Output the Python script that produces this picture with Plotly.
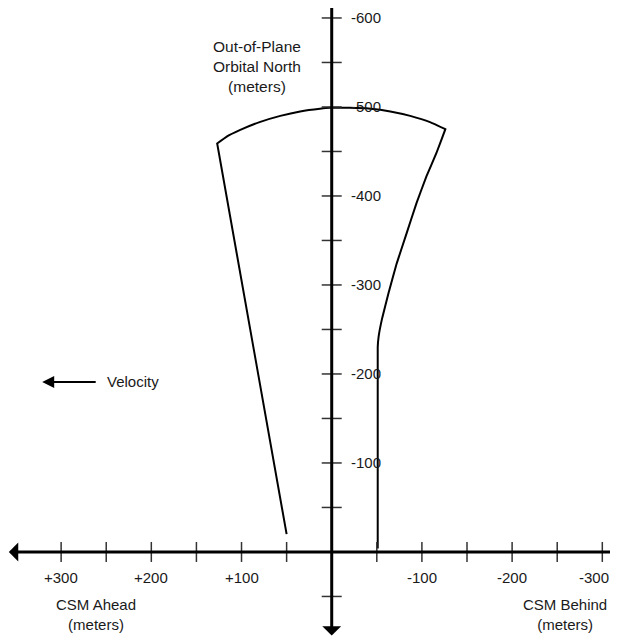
import plotly.graph_objects as go

# corridor boundary: x = along-track (+ = CSM ahead), y = out-of-plane (- = orbital north), meters
left_x = [50, 127]
left_y = [-20, -459]
arc_x = [127, 116, 102, 80, 57, 35, 13, 2, -20, -43, -65, -87, -109, -126]
arc_y = [-459, -467, -474, -483, -490, -495, -498, -499, -499, -498, -495, -490, -483, -475]
right_x = [-126, -116, -105, -94, -83, -72, -63, -56, -52, -51, -51]
right_y = [-475, -448, -422, -392, -358, -324, -291, -263, -242, -230, -4]

x_ticks = [300, 250, 200, 150, 100, 50, 0, -50, -100, -150, -200, -250, -300]
x_tick_labels = {300: '+300', 200: '+200', 100: '+100', -100: '-100', -200: '-200', -300: '-300'}
y_ticks = [50, -50, -100, -150, -200, -250, -300, -350, -400, -450, -500, -550, -600]
y_tick_labels = {-100: '-100', -200: '-200', -300: '-300', -400: '-400', -500: '-500', -600: '-600'}

FONT = dict(family='Liberation Sans, Arial, sans-serif', size=15, color='#1a1a1a')

fig = go.Figure(go.Scatter(
    x=left_x + arc_x + right_x,
    y=left_y + arc_y + right_y,
    mode='lines',
    line=dict(color='black', width=2, shape='spline', smoothing=0.3),
    hoverinfo='skip',
))

shapes = []
for t in x_ticks:
    shapes.append(dict(type='line', xref='x', yref='y', x0=t, x1=t,
                       ysizemode='pixel', yanchor=0, y0=-10, y1=10,
                       line=dict(color='#333', width=1.5)))
for t in y_ticks:
    shapes.append(dict(type='line', xref='x', yref='y', y0=t, y1=t,
                       xsizemode='pixel', xanchor=0, x0=-10, x1=10,
                       line=dict(color='#333', width=1.5)))

ann = []
# axes with arrows
ann.append(dict(x=358, y=0, ax=-322, ay=0, axref='x', ayref='y', xref='x', yref='y',
                text='', showarrow=True, arrowhead=1, arrowsize=1.05, arrowwidth=3, arrowcolor='black'))
ann.append(dict(x=0, y=94, ax=0, ay=-613, axref='x', ayref='y', xref='x', yref='y',
                text='', showarrow=True, arrowhead=1, arrowsize=1.05, arrowwidth=3, arrowcolor='black'))
# velocity arrow
ann.append(dict(x=321, y=-191, ax=260, ay=-191, axref='x', ayref='y', xref='x', yref='y',
                text='', showarrow=True, arrowhead=2, arrowsize=1.2, arrowwidth=2, arrowcolor='black'))
ann.append(dict(x=251, y=-191, xref='x', yref='y', text='Velocity', showarrow=False,
                xanchor='left', font=FONT))

for t, lab in x_tick_labels.items():
    # the right-most label is nudged in so it is not cut by the page edge
    ann.append(dict(x=t, y=0, xref='x', yref='y', text=lab, showarrow=False,
                    yshift=-26, xshift=-8 if t == -300 else 0, font=FONT))
for t, lab in y_tick_labels.items():
    ann.append(dict(x=0, y=t, xref='x', yref='y', text=lab, showarrow=False,
                    xanchor='left', xshift=17, font=FONT))

ann.append(dict(x=261, y=70, xref='x', yref='y', text='CSM Ahead<br>(meters)',
                showarrow=False, font=FONT))
ann.append(dict(x=-259, y=70, xref='x', yref='y', text='CSM Behind<br>(meters)',
                showarrow=False, font=FONT))
ann.append(dict(x=83, y=-546, xref='x', yref='y', text='Out-of-Plane<br>Orbital North<br>(meters)',
                showarrow=False, font=dict(FONT, size=15.5)))

# page body adds an 8px offset, so the figure starts at (8, 8)
fig.update_layout(
    width=610, height=631,
    margin=dict(l=0, r=0, t=0, b=0),
    paper_bgcolor='white', plot_bgcolor='white',
    showlegend=False,
    xaxis=dict(range=[358.9, -317.4], visible=False, fixedrange=True),
    yaxis=dict(range=[97.8, -611.2], visible=False, fixedrange=True),
    shapes=shapes,
    annotations=ann,
)

fig.write_html("out.html", config={'displayModeBar': False})
